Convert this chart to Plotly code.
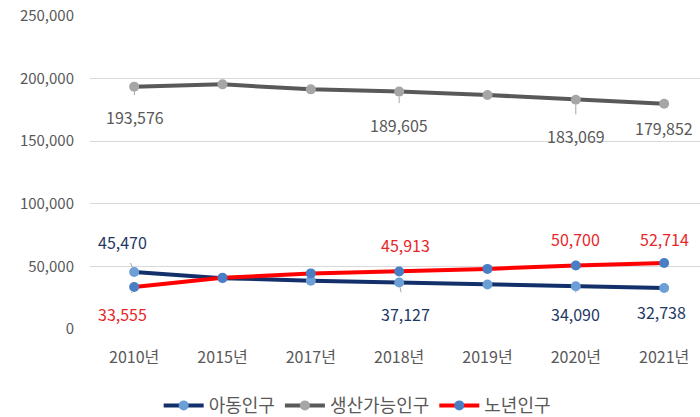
import plotly.graph_objects as go

years = ["2010년", "2015년", "2017년", "2018년", "2019년", "2020년", "2021년"]
child = [45470, 40600, 38600, 37127, 35600, 34090, 32738]
working = [193576, 195400, 191400, 189605, 186900, 183069, 179852]
elderly = [33555, 40900, 44400, 45913, 48000, 50700, 52714]

child_labels = {0: (-12, -30), 3: (6, 31), 5: (0, 28), 6: (-3, 24)}
working_labels = {0: (1, 30), 3: (0, 33), 5: (0, 36), 6: (0, 24)}
elderly_labels = {0: (-12, 27), 3: (6, -27), 5: (0, -27), 6: (0, -24)}

FONT = "'Noto Sans CJK KR', 'Malgun Gothic', sans-serif"
NAVY = "#13306A"
GRAY = "#595959"
RED = "#FF0000"

fig = go.Figure()
fig.add_trace(go.Scatter(x=years, y=child, name="아동인구", mode="lines+markers",
                         line=dict(color=NAVY, width=4),
                         marker=dict(color="#6C9FD6", size=10)))
fig.add_trace(go.Scatter(x=years, y=working, name="생산가능인구", mode="lines+markers",
                         line=dict(color=GRAY, width=4),
                         marker=dict(color="#A6A6A6", size=10)))
fig.add_trace(go.Scatter(x=years, y=elderly, name="노년인구", mode="lines+markers",
                         line=dict(color=RED, width=4),
                         marker=dict(color="#4A7EC4", size=10)))

def add_labels(values, offsets, color):
    for i, (ax, ay) in offsets.items():
        fig.add_annotation(x=years[i], y=values[i], text=f"{values[i]:,}",
                           showarrow=True, arrowhead=0, arrowwidth=1,
                           arrowcolor="#A6A6A6", ax=ax, ay=ay, standoff=5,
                           startstandoff=8,
                           font=dict(family=FONT, size=16, color=color))

add_labels(working, working_labels, "#595959")
add_labels(child, child_labels, "#1F3864")
add_labels(elderly, elderly_labels, "#E8262A")

fig.update_layout(
    width=700, height=417,
    margin=dict(l=90, r=0, t=16, b=88, autoexpand=False),
    paper_bgcolor="white", plot_bgcolor="white",
    font=dict(family=FONT, size=13, color="#595959"),
    showlegend=True,
    legend=dict(orientation="h", x=0.438, xanchor="center", y=-0.245, yanchor="middle",
                font=dict(family=FONT, size=18, color="#595959"),
                itemwidth=40, tracegroupgap=0),
)
fig.update_xaxes(range=[-0.5, 6.406], automargin=False,
                 showgrid=False, showline=False, zeroline=False,
                 ticks="", ticklabelstandoff=17,
                 tickfont=dict(family=FONT, size=16, color="#595959"))
fig.update_yaxes(range=[0, 250000], dtick=50000, tickformat=",", automargin=False,
                 showgrid=True, gridcolor="#D9D9D9", gridwidth=1,
                 zeroline=False, showline=False, ticklabelstandoff=15,
                 tickfont=dict(family=FONT, size=15, color="#595959"))

fig.write_html("out.html", config={"displayModeBar": False},
               post_script="document.body.style.margin='0';document.body.style.overflow='hidden';")
